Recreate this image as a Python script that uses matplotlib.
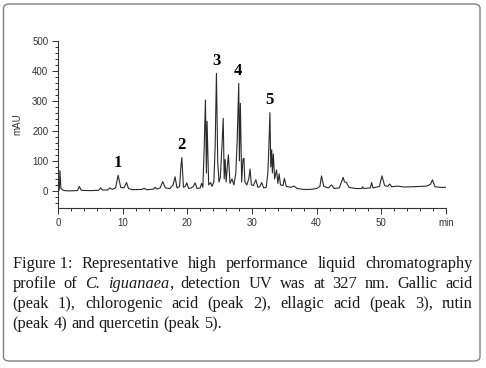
import matplotlib
matplotlib.use('Agg')
import matplotlib.pyplot as plt
from matplotlib.patches import FancyBboxPatch
from matplotlib.ticker import MultipleLocator

# chromatogram trace (time in min, signal in mAU)
time_min = [0.0, 0.2, 0.3, 0.45, 0.8, 1.5, 3.0, 3.3, 3.6, 5.0, 6.3, 6.6, 6.9, 7.7, 8.0, 8.4,
            8.9, 9.3, 9.7, 10.2, 10.6, 10.9, 11.5, 13.0, 13.3, 13.7, 14.8, 15.0, 15.3, 15.8,
            16.2, 16.6, 17.3, 17.8, 18.1, 18.4, 18.8, 19.0, 19.15, 19.4, 19.7, 19.9, 20.2,
            20.6, 20.9, 21.2, 21.5, 22.0, 22.2, 22.4, 22.6, 22.8, 22.95, 23.05, 23.3, 23.6,
            23.8, 24.1, 24.3, 24.5, 24.7, 24.9, 25.1, 25.4, 25.55, 25.7, 25.85, 26.0, 26.2,
            26.35, 26.6, 26.9, 27.2, 27.5, 27.7, 27.95, 28.05, 28.2, 28.4, 28.6, 28.75, 28.9,
            29.2, 29.5, 29.7, 29.9, 30.2, 30.6, 30.9, 31.2, 31.5, 31.8, 32.2, 32.45, 32.6,
            32.77, 32.9, 33.05, 33.15, 33.3, 33.5, 33.8, 34.0, 34.2, 34.4, 34.8, 35.0, 35.3,
            36.0, 36.5, 37.0, 38.0, 39.0, 40.0, 40.5, 40.75, 41.1, 41.8, 42.3, 42.7, 43.5,
            44.1, 44.3, 44.6, 45.0, 46.0, 47.0, 47.1, 47.3, 48.3, 48.5, 48.7, 49.7, 50.1,
            50.5, 51.0, 51.3, 51.6, 52.5, 53.5, 55.0, 57.0, 57.6, 57.9, 58.3, 59.0, 60.0]
mau = [2, 3, 68, 8, 2, 0, 1, 15, 2, 1, 2, 10, 3, 3, 10, 5,
       10, 52, 12, 10, 28, 8, 4, 5, 9, 4, 6, 12, 6, 10,
       31, 10, 8, 20, 47, 10, 15, 80, 111, 12, 15, 27, 8,
       10, 14, 27, 8, 10, 25, 12, 140, 303, 60, 232, 20, 28,
       15, 30, 145, 392, 95, 30, 45, 170, 242, 40, 105, 30, 85,
       120, 25, 40, 20, 60, 164, 359, 100, 292, 30, 105, 109, 30,
       20, 40, 73, 20, 18, 37, 12, 14, 28, 10, 12, 60, 140,
       261, 80, 137, 60, 123, 40, 70, 25, 57, 20, 18, 42, 15,
       12, 16, 8, 5, 5, 8, 15, 50, 15, 10, 20, 8, 10,
       45, 30, 28, 12, 8, 8, 14, 8, 10, 28, 10, 15, 50,
       18, 15, 23, 14, 16, 13, 14, 16, 22, 37, 14, 12, 12]

peak_labels = ['1', '2', '3', '4', '5']
peak_times = [9.3, 19.15, 24.5, 27.8, 32.77]
peak_heights = [52, 111, 392, 359, 261]

x_ticks = [0, 10, 20, 30, 40, 50, 60]
x_tick_labels = ['0', '10', '20', '30', '40', '50', 'min']
y_ticks = [0, 100, 200, 300, 400, 500]

caption_lines = [
    [[('Figure 1:', 'n')], [('Representative', 'n')], [('high', 'n')], [('performance', 'n')],
     [('liquid', 'n')], [('chromatography', 'n')]],
    [[('profile', 'n')], [('of', 'n')], [('C.', 'i')], [('iguanaea', 'i'), (',', 'n')],
     [('detection', 'n')], [('UV', 'n')], [('was', 'n')], [('at', 'n')], [('327', 'n')],
     [('nm.', 'n')], [('Gallic', 'n')], [('acid', 'n')]],
    [[('(peak', 'n')], [('1),', 'n')], [('chlorogenic', 'n')], [('acid', 'n')], [('(peak', 'n')],
     [('2),', 'n')], [('ellagic', 'n')], [('acid', 'n')], [('(peak', 'n')], [('3),', 'n')],
     [('rutin', 'n')]],
    [[('(peak', 'n')], [('4)', 'n')], [('and', 'n')], [('quercetin', 'n')], [('(peak', 'n')],
     [('5).', 'n')]],
]

W, H = 486, 368
fig = plt.figure(figsize=(W / 100, H / 100), dpi=100)

# rahmen um die ganze abbildung
box = FancyBboxPatch((3.5 / W, 7 / H), 476.5 / W, 357 / H,
                     boxstyle='round,pad=0,rounding_size=0.012',
                     transform=fig.transFigure, fc='none', ec='#808080', lw=1.0)
fig.patches.append(box)

ax = fig.add_axes([58 / W, 160 / H, 388 / W, 167 / H])
ax.patch.set_visible(False)
ax.plot(time_min, mau, color='#2a2a2a', lw=0.8)
ax.set_xlim(0, 60)
ax.set_ylim(-57, 500)

for s in ['top', 'right']:
    ax.spines[s].set_visible(False)
for s in ['left', 'bottom']:
    ax.spines[s].set_color('#333333')
    ax.spines[s].set_linewidth(0.8)

tick_font = dict(family='Liberation Sans', size=7)
ax.set_xticks(x_ticks)
ax.set_xticklabels(x_tick_labels, color='#333333', fontdict=tick_font)
ax.set_yticks(y_ticks)
ax.set_yticklabels([str(v) for v in y_ticks], color='#333333', fontdict=tick_font)
ax.xaxis.set_minor_locator(MultipleLocator(2))
ax.yaxis.set_minor_locator(MultipleLocator(20))
ax.tick_params(which='major', length=4, width=0.7, color='#333333', pad=3)
ax.tick_params(which='minor', length=2.5, width=0.7, color='#333333')
ax.set_ylabel('mAU', fontdict=tick_font, color='#333333', labelpad=7)

for lab, t, h in zip(peak_labels, peak_times, peak_heights):
    ax.annotate(lab, (t, h), xytext=(0, 3), textcoords='offset points',
                ha='center', va='bottom', family='Liberation Serif',
                fontweight='bold', fontsize=12)

# bildunterschrift im blocksatz
cap_font = 'Liberation Serif'
cap_size = 11.8
left_px, right_px = 12.5, 472.5
baselines = [268, 288, 308, 328]

renderer = fig.canvas.get_renderer()


def seg_width(text, style):
    t = fig.text(0, 0, text, family=cap_font, size=cap_size,
                 style='italic' if style == 'i' else 'normal')
    w = t.get_window_extent(renderer).width
    t.remove()
    return w


for li, words in enumerate(caption_lines):
    widths = [sum(seg_width(s, st) for s, st in word) for word in words]
    space = seg_width('a a', 'n') - 2 * seg_width('a', 'n')
    if li < len(caption_lines) - 1:
        space = (right_px - left_px - sum(widths)) / (len(words) - 1)
    x = left_px
    y = 1 - baselines[li] / H
    for word, w in zip(words, widths):
        xs = x
        for s, st in word:
            fig.text(xs / W, y, s, family=cap_font, size=cap_size, va='baseline',
                     style='italic' if st == 'i' else 'normal', color='#1a1a1a')
            xs += seg_width(s, st)
        x += w + space

fig.savefig('out.png', dpi=100)
